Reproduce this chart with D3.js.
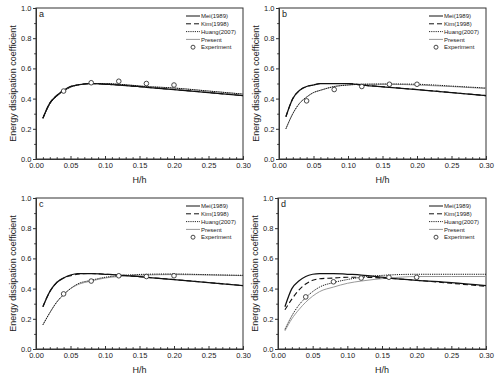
<!DOCTYPE html>
<html><head><meta charset="utf-8">
<script src="https://cdn.jsdelivr.net/npm/d3@7"></script>
<style>body{margin:0;background:#fff}svg{display:block}text{font-family:"Liberation Sans",Arial,sans-serif}</style>
</head><body><svg id="c" width="500" height="381"></svg>
<script>
const xs = [0.01,0.02,0.03,0.04,0.05,0.06,0.08,0.10,0.12,0.16,0.20,0.25,0.30];
const expX = [0.04,0.08,0.12,0.16,0.20];
const seriesNames = ["Mei(1989)","Kim(1998)","Huang(2007)","Present"];
const panelLabels = ["a","b","c","d"];
const xTicks = [0,0.05,0.10,0.15,0.20,0.25,0.30];
const yTicks = [0,0.2,0.4,0.6,0.8,1.0];

// panel a
const meiA   = [0.27,0.37,0.42,0.455,0.48,0.49,0.50,0.495,0.49,0.475,0.46,0.44,0.42];
const kimA   = [0.27,0.37,0.42,0.455,0.48,0.49,0.50,0.495,0.49,0.475,0.46,0.44,0.42];
const huangA = [0.27,0.365,0.415,0.45,0.475,0.49,0.50,0.50,0.495,0.48,0.47,0.45,0.43];
const presA  = [0.27,0.365,0.415,0.45,0.475,0.49,0.50,0.50,0.495,0.48,0.47,0.45,0.43];
const expA   = [0.45,0.505,0.515,0.50,0.49];
// panel b
const meiB   = [0.28,0.40,0.455,0.48,0.49,0.50,0.50,0.50,0.49,0.475,0.46,0.44,0.42];
const kimB   = [0.28,0.40,0.455,0.48,0.49,0.50,0.50,0.50,0.49,0.475,0.46,0.44,0.42];
const huangB = [0.20,0.30,0.37,0.41,0.44,0.455,0.48,0.49,0.495,0.497,0.495,0.483,0.47];
const presB  = [0.20,0.30,0.37,0.41,0.44,0.455,0.48,0.49,0.495,0.495,0.49,0.48,0.467];
const expB   = [0.385,0.46,0.48,0.495,0.495];
// panel c
const meiC   = [0.28,0.38,0.44,0.47,0.49,0.50,0.50,0.495,0.49,0.475,0.46,0.44,0.42];
const kimC   = [0.28,0.38,0.44,0.47,0.485,0.495,0.50,0.495,0.49,0.475,0.46,0.44,0.42];
const huangC = [0.16,0.24,0.31,0.36,0.40,0.43,0.455,0.475,0.485,0.495,0.497,0.492,0.488];
const presC  = [0.16,0.24,0.31,0.36,0.40,0.425,0.45,0.47,0.48,0.49,0.493,0.49,0.486];
const expC   = [0.365,0.45,0.485,0.48,0.485];
// panel d
const meiD   = [0.28,0.40,0.45,0.48,0.495,0.50,0.50,0.495,0.49,0.47,0.455,0.44,0.42];
const kimD   = [0.26,0.33,0.39,0.43,0.455,0.465,0.47,0.475,0.475,0.468,0.455,0.435,0.415];
const huangD = [0.13,0.22,0.29,0.34,0.38,0.41,0.44,0.46,0.475,0.49,0.495,0.495,0.495];
const presD  = [0.12,0.20,0.26,0.31,0.35,0.38,0.41,0.435,0.45,0.47,0.48,0.48,0.48];
const expD   = [0.345,0.445,0.47,0.475,0.475];

const panels = [
  {label:"a", s:[meiA,kimA,huangA,presA], e:expA, x0:36, x1:243, y0:159, y1:8},
  {label:"b", s:[meiB,kimB,huangB,presB], e:expB, x0:279, x1:486, y0:159, y1:8},
  {label:"c", s:[meiC,kimC,huangC,presC], e:expC, x0:36, x1:243, y0:349, y1:198},
  {label:"d", s:[meiD,kimD,huangD,presD], e:expD, x0:278, x1:486, y0:349, y1:198}
];
const styles = [
  {stroke:"#111", w:1.25, lw:1, dash:null},
  {stroke:"#111", w:1.1, lw:1, dash:"5,3"},
  {stroke:"#111", w:1.0, lw:0.9, dash:"1.2,1"},
  {stroke:"#999", w:1, lw:1, dash:null}
];

const svg = d3.select("#c");
panels.forEach(p => {
  const g = svg.append("g");
  const x = d3.scaleLinear().domain([0,0.30]).range([p.x0,p.x1]);
  const y = d3.scaleLinear().domain([0,1]).range([p.y0,p.y1]);
  g.append("rect").attr("x",p.x0).attr("y",p.y1).attr("width",p.x1-p.x0).attr("height",p.y0-p.y1)
    .attr("fill","none").attr("stroke","#333").attr("stroke-width",1);
  const xa = g.append("g").attr("transform",`translate(0,${p.y0})`)
    .call(d3.axisBottom(x).tickValues(xTicks).tickFormat(d3.format(".2f")).tickSizeInner(-3).tickSizeOuter(0));
  xa.append("g").call(d3.axisBottom(x).tickValues(d3.range(0,31).map(i=>i/100).filter(v=>Math.round(v*100)%5)).tickSize(-1.8).tickFormat(""));
  const ya = g.append("g").attr("transform",`translate(${p.x0},0)`)
    .call(d3.axisLeft(y).tickValues(yTicks).tickFormat(d3.format(".1f")).tickSizeInner(3).tickSizeOuter(0));
  ya.append("g").call(d3.axisLeft(y).tickValues([0.1,0.3,0.5,0.7,0.9]).tickSize(1.8).tickFormat(""));
  [xa,ya].forEach(a=>{
    a.selectAll(".domain").attr("stroke","#333");
    a.selectAll("line").attr("stroke","#333");
    a.selectAll("text").attr("font-size","7.5px").attr("fill","#222").style("font-family","Liberation Sans, Arial, sans-serif");
  });
  xa.selectAll("text").attr("y",4);
  ya.selectAll("text").attr("x",-4.5);
  g.append("text").attr("x",(p.x0+p.x1)/2).attr("y",p.y0+24).attr("text-anchor","middle")
    .attr("font-size","9px").attr("fill","#222").text("H/h");
  g.append("text").attr("transform",`translate(${p.x0-20},${(p.y0+p.y1)/2}) rotate(-90)`)
    .attr("text-anchor","middle").attr("font-size","9px").attr("fill","#222").text("Energy dissipation coefficient");
  g.append("text").attr("x",p.x0+3).attr("y",p.y1+9).attr("font-size","9px").attr("fill","#222").text(p.label);
  const line = d3.line().x((d,i)=>x(xs[i])).y(d=>y(d)).curve(d3.curveMonotoneX);
  [3,2,1,0].forEach(k=>{
    g.append("path").datum(p.s[k]).attr("d",line).attr("fill","none")
      .attr("stroke",styles[k].stroke).attr("stroke-width",styles[k].w)
      .attr("stroke-dasharray",styles[k].dash);
  });
  g.selectAll("circle.e").data(p.e).enter().append("circle")
    .attr("cx",(d,i)=>x(expX[i])).attr("cy",d=>y(d)).attr("r",2.3)
    .attr("fill","#fff").attr("stroke","#333").attr("stroke-width",0.9);
  const lx = p.x1-57, ly = p.y1+8;
  seriesNames.forEach((n,k)=>{
    const yy = ly + k*7.8;
    g.append("line").attr("x1",lx).attr("x2",lx+14).attr("y1",yy).attr("y2",yy)
      .attr("stroke",styles[k].stroke).attr("stroke-width",styles[k].lw).attr("stroke-dasharray",styles[k].dash);
    g.append("text").attr("x",lx+15).attr("y",yy+2.2).attr("font-size","6px").attr("fill","#222").text(n);
  });
  const yy = ly + 4*7.8;
  g.append("circle").attr("cx",lx+7).attr("cy",yy).attr("r",2).attr("fill","#fff").attr("stroke","#333").attr("stroke-width",0.9);
  g.append("text").attr("x",lx+15).attr("y",yy+2.2).attr("font-size","6px").attr("fill","#222").text("Experiment");
});
</script></body></html>
